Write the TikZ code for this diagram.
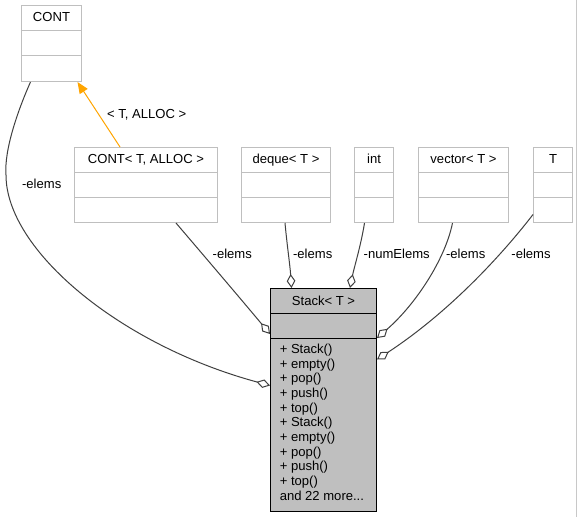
\documentclass[tikz,border=0pt]{standalone}
\usepackage{fontspec}
\setmainfont{Liberation Sans}
\usetikzlibrary{arrows.meta,calc,fit}
\definecolor{boxgray}{RGB}{191,191,191}
\definecolor{framegray}{RGB}{200,200,200}
\definecolor{edgegray}{RGB}{64,64,64}
\definecolor{inhorange}{RGB}{255,165,0}
\begin{document}
\begin{tikzpicture}[x=0.75pt,y=-0.75pt,
  classbox/.style={draw=boxgray, fill=white, line width=0.75pt, inner sep=0pt},
  mainbox/.style={draw=black, fill=boxgray, line width=0.75pt, inner sep=0pt},
  divider/.style={draw=boxgray, line width=0.75pt},
  maindivider/.style={draw=black, line width=0.75pt},
  lbl/.style={font=\fontsize{9.8}{11.8}\selectfont, inner sep=0pt, anchor=base},
  mem/.style={lbl, anchor=base west},
  assoc/.style={draw=edgegray, line width=0.75pt, -{Diamond[fill=white, length=10.5pt, width=6.5pt]}},
  inherit/.style={draw=inhorange, line width=0.75pt, -{Triangle[length=8.5pt, width=7pt]}}
]
\fill[white] (0,0) rectangle (577,517);
\path[use as bounding box] (0,0) rectangle (577,517);
\draw[framegray, line width=0.75pt] (576.5,0) -- (576.5,517);

% class boxes
\node[classbox, fit={(21.5,5.5) (81.5,81.5)}] (cont) {};
\node[classbox, fit={(74.5,147.5) (217.5,222.5)}] (contTA) {};
\node[classbox, fit={(241.5,147.5) (330.5,222.5)}] (deque) {};
\node[classbox, fit={(354.5,147.5) (393.5,222.5)}] (int) {};
\node[classbox, fit={(418.5,147.5) (508.5,222.5)}] (vector) {};
\node[classbox, fit={(533.5,147.5) (572.5,222.5)}] (T) {};
\node[mainbox, fit={(270.5,288.5) (376.5,511.5)}] (stack) {};

% dividers
\foreach \b/\o in {cont/26,cont/51,contTA/25,contTA/50,deque/25,deque/50,int/25,int/50,vector/25,vector/50,T/25,T/50}{
  \draw[divider] ($(\b.north west)+(0,\o)$) -- ($(\b.north east)+(0,\o)$);
}
\draw[maindivider] ($(stack.north west)+(0,25)$) -- ($(stack.north east)+(0,25)$);
\draw[maindivider] ($(stack.north west)+(0,50)$) -- ($(stack.north east)+(0,50)$);

% headers
\node[lbl] (contname) at ($(cont.north)+(0,16.5)$) {CONT};
\node[lbl] (contTAname) at ($(contTA.north)+(0,16)$) {CONT< T, ALLOC >};
\node[lbl] (dequename) at ($(deque.north)+(0,16)$) {deque< T >};
\node[lbl] (intname) at ($(int.north)+(0,16)$) {int};
\node[lbl] (vectorname) at ($(vector.north)+(0,16)$) {vector< T >};
\node[lbl] (Tname) at ($(T.north)+(0,16)$) {T};
\node[lbl] (stackname) at ($(stack.north)+(0,17)$) {Stack< T >};

% members
\foreach \t [count=\i from 0] in {{+ Stack()},{+ empty()},{+ pop()},{+ push()},{+ top()},{+ Stack()},{+ empty()},{+ pop()},{+ push()},{+ top()},{and 22 more.{}.{}.}}{
  \node[mem] (m\i) at ($(stack.north west)+(9.5,65.5+14.67*\i)$) {\t};
}

% inheritance
\draw[inherit] ($(contTA.north west)+(46,0)$) -- ($(cont.south west)+(56.5,0)$);
\node[lbl] (tplabel) at (146.7,118.5) {< T, ALLOC >};

% associations
\draw[assoc] ($(cont.south west)+(9.5,0)$) .. controls (18,110) and (4,150) .. (6,175)
   .. controls (6,250) and (120,345) .. ($(stack.north west)+(0,97.5)$);
\node[lbl] (l1) at (41.7,188.5) {-elems};

\draw[assoc] ($(contTA.south west)+(102,0)$) .. controls (205,257) and (240,298) .. ($(stack.north west)+(0,46)$);
\node[lbl] (l2) at (232.3,258.5) {-elems};

\draw[assoc] ($(deque.south west)+(44,0)$) .. controls (287,245) and (290,265) .. ($(stack.north west)+(21.5,0)$);
\node[lbl] (l3) at (312.7,258.5) {-elems};

\draw[assoc] ($(int.south west)+(10.5,0)$) .. controls (361,245) and (354,268) .. ($(stack.north west)+(80,0)$);
\node[lbl] (l4) at (396.7,258.5) {-numElems};

\draw[assoc] ($(vector.south west)+(34.5,0)$) .. controls (445,260) and (415,305) .. ($(stack.north east)+(0,50)$);
\node[lbl] (l5) at (465.7,258.5) {-elems};

\draw[assoc] ($(T.south west)+(0,-8.5)$) .. controls (515,238) and (460,305) .. ($(stack.north east)+(0,71.5)$);
\node[lbl] (l6) at (531,258.5) {-elems};
\end{tikzpicture}
\end{document}
